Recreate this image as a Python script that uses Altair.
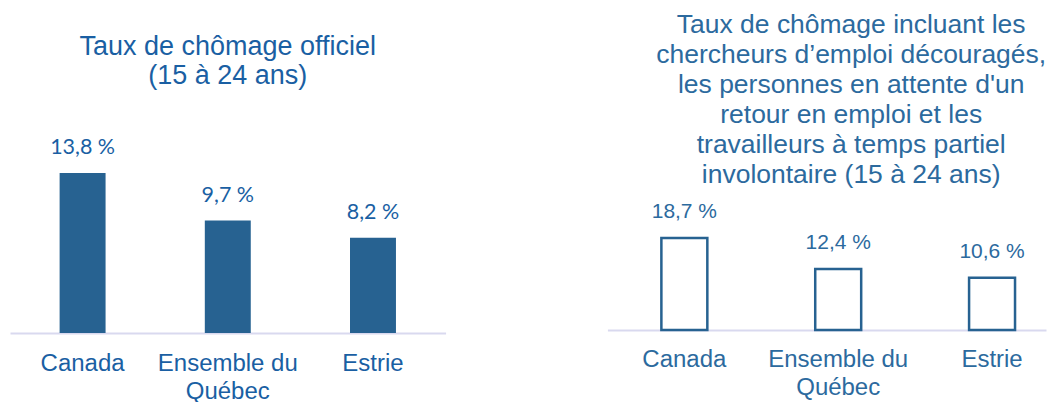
import altair as alt
import pandas as pd

categories = ["Canada", "Ensemble du Québec", "Estrie"]
official_rates = [13.8, 9.7, 8.2]
broad_rates = [18.7, 12.4, 10.6]

left_title = ["Taux de chômage officiel", "(15 à 24 ans)"]
right_title = [
    "Taux de chômage incluant les",
    "chercheurs d’emploi découragés,",
    "les personnes en attente d'un",
    "retour en emploi et les",
    "travailleurs à temps partiel",
    "involontaire (15 à 24 ans)",
]


def fmt(v):
    return f"{v:.1f}".replace(".", ",") + " %"


df_left = pd.DataFrame({"cat": categories, "val": official_rates,
                        "label": [fmt(v) for v in official_rates]})
df_right = pd.DataFrame({"cat": categories, "val": broad_rates,
                         "label": [fmt(v) for v in broad_rates]})

LEFT_TEXT = "#1a5fa3"
RIGHT_TEXT = "#2c6a9e"
BAR = "#276291"
AXIS = "#d9d9ef"

label_expr = "datum.value == 'Ensemble du Québec' ? ['Ensemble du', 'Québec'] : datum.label"


def x_enc(color, pad, scale):
    return alt.X(
        "cat:N", sort=categories, scale=scale,
        axis=alt.Axis(title=None, labelAngle=0, labelExpr=label_expr,
                      labelFont="Liberation Sans", labelFontSize=24,
                      labelColor=color, labelLineHeight=28, labelPadding=pad,
                      labelBaseline="top", ticks=False, domainColor=AXIS,
                      domainWidth=2),
    )


left_x = x_enc(LEFT_TEXT, 19, alt.Scale(paddingInner=0, paddingOuter=0))
left_y = alt.Y("val:Q", scale=alt.Scale(domain=[0, 12.33]), axis=None)

left_base = alt.Chart(df_left)
left = alt.layer(
    left_base.mark_bar(width=46, color=BAR).encode(x=left_x, y=left_y),
    left_base.mark_text(baseline="middle", dy=-25, font="Lato", fontSize=21.5,
                        color=LEFT_TEXT).encode(x=left_x, y=left_y, text="label:N"),
).properties(
    width=436, height=143,
    title=alt.TitleParams(left_title, font="Liberation Sans", fontSize=27,
                          fontWeight="normal", color=LEFT_TEXT, lineHeight=29,
                          baseline="bottom", offset=20, anchor="middle",
                          frame="group"),
)

right_x = x_enc(RIGHT_TEXT, 18, alt.Scale(paddingInner=0.2987, paddingOuter=0.0747, align=1))
right_y = alt.Y("val:Q", scale=alt.Scale(domain=[0, 28.46]), axis=None)

right_base = alt.Chart(df_right)
right = alt.layer(
    right_base.mark_bar(width=46, fill="white", stroke=BAR, strokeWidth=2.5).encode(x=right_x, y=right_y),
    right_base.mark_text(baseline="middle", dy=-26, font="Liberation Sans", fontSize=21,
                         color=RIGHT_TEXT).encode(x=right_x, y=right_y, text="label:N"),
).properties(
    width=439, height=140,
    title=alt.TitleParams(right_title, font="Liberation Sans", fontSize=26.5,
                          fontWeight="normal", color=RIGHT_TEXT, lineHeight=30,
                          baseline="bottom", offset=-25, anchor="middle",
                          frame="group", dx=24.5),
)

chart = alt.hconcat(left, right, spacing=162, bounds="flush").properties(
    padding={"left": 2, "top": 3, "right": 0, "bottom": 0}
).configure_view(stroke=None)

chart.save("out.html", embed_options={"renderer": "svg", "actions": False})
